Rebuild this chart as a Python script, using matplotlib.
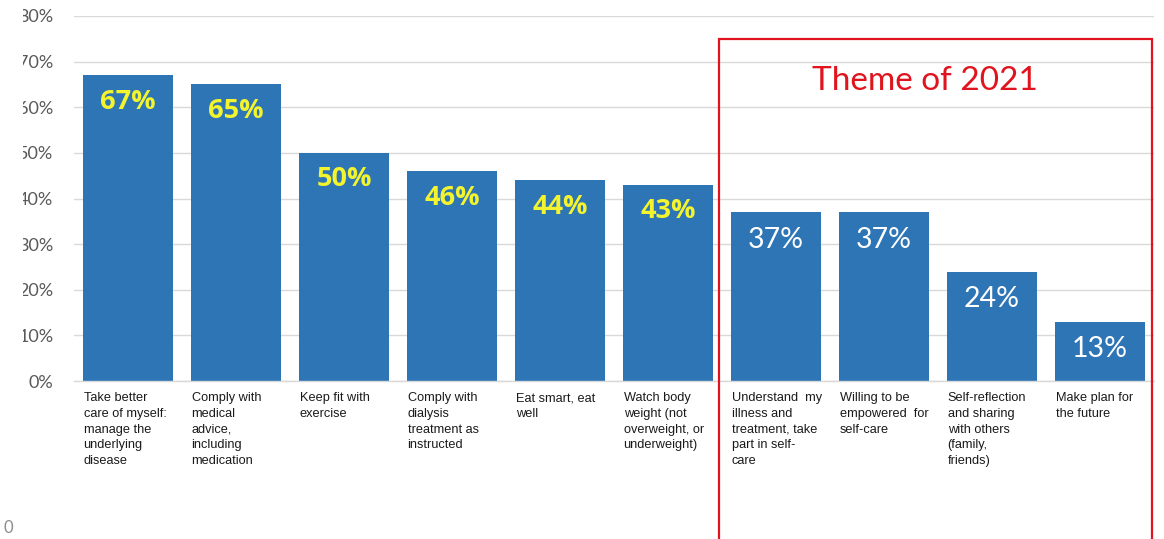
import matplotlib
matplotlib.use("Agg")
import matplotlib.pyplot as plt
from matplotlib.patches import Rectangle
from matplotlib.transforms import Bbox

categories = [
    "Take better\ncare of myself:\nmanage the\nunderlying\ndisease",
    "Comply with\nmedical\nadvice,\nincluding\nmedication",
    "Keep fit with\nexercise",
    "Comply with\ndialysis\ntreatment as\ninstructed",
    "Eat smart, eat\nwell",
    "Watch body\nweight (not\noverweight, or\nunderweight)",
    "Understand  my\nillness and\ntreatment, take\npart in self-\ncare",
    "Willing to be\nempowered  for\nself-care",
    "Self-reflection\nand sharing\nwith others\n(family,\nfriends)",
    "Make plan for\nthe future",
]
values = [67, 65, 50, 46, 44, 43, 37, 37, 24, 13]
theme_flags = [False] * 6 + [True] * 4
y_ticks = [0, 10, 20, 30, 40, 50, 60, 70, 80]
y_tick_labels = [f"{t}%" for t in y_ticks]
theme_title = "Theme of 2021"

BAR = "#2E75B6"
YELLOW = "#F4F42E"
GRID = "#D9D9D9"
TICK = "#595959"
RED = "#E0141E"

W, H = 1164, 539
fig = plt.figure(figsize=(W / 100, H / 100), dpi=100)
ax = fig.add_axes([74 / W, 1 - 381 / H, (1154 - 74) / W, (381 - 16) / H])

x = list(range(len(values)))
bars = ax.bar(x, values, width=0.835, color=BAR, zorder=2)
ax.set_xlim(-0.5, len(values) - 0.5)
ax.set_ylim(0, 80)
ax.set_yticks(y_ticks)
ax.set_yticklabels(y_tick_labels, fontsize=13, color=TICK, family="Lato")
ax.tick_params(axis="y", length=0, pad=15)
ax.set_xticks([])
ax.grid(axis="y", color=GRID, linewidth=1, zorder=0)
for side in ["top", "right", "left"]:
    ax.spines[side].set_visible(False)
ax.spines["bottom"].set_color(GRID)
ax.spines["bottom"].set_linewidth(1)

# tick labels are cut off at the left edge of the panel
clip = Bbox.from_extents(23, 0, 200, H)
for lab in ax.get_yticklabels():
    lab.set_clip_on(True)
    lab.set_clip_box(clip)

# value labels inside the bars
for xi, v, themed in zip(x, values, theme_flags):
    if themed:
        ax.annotate(f"{v}%", (xi, v), xytext=(0, -20), textcoords="offset points",
                    ha="center", va="center", fontsize=20.5, color="white",
                    family="Lato", zorder=3)
    else:
        ax.annotate(f"{v}%", (xi, v), xytext=(0, -19), textcoords="offset points",
                    ha="center", va="center", fontsize=19.5, color=YELLOW,
                    family="Open Sans", fontweight="bold", zorder=3)

# category labels below the bars, left-aligned to each bar
for xi, cat in zip(x, categories):
    ax.annotate(cat, (xi - 0.835 / 2, 0), xytext=(0.5, -8), textcoords="offset points",
                ha="left", va="top", fontsize=9.2, color="#1a1a1a",
                family="Liberation Sans", linespacing=1.42, annotation_clip=False)

# box marking the 2021 theme categories
fig.patches.append(Rectangle((719 / W, -0.05), (1152 - 719) / W, 1 - 39 / H + 0.05,
                             transform=fig.transFigure, fill=False,
                             edgecolor=RED, linewidth=1.6))
fig.text(925 / W, 1 - 81 / H, theme_title, ha="center", va="center",
         fontsize=24, color=RED, family="Lato")

fig.text(3 / W, 1 - 528 / H, "0", ha="left", va="center", fontsize=12,
         color="#8c8c8c", family="Lato")

fig.savefig("out.png", dpi=100)
